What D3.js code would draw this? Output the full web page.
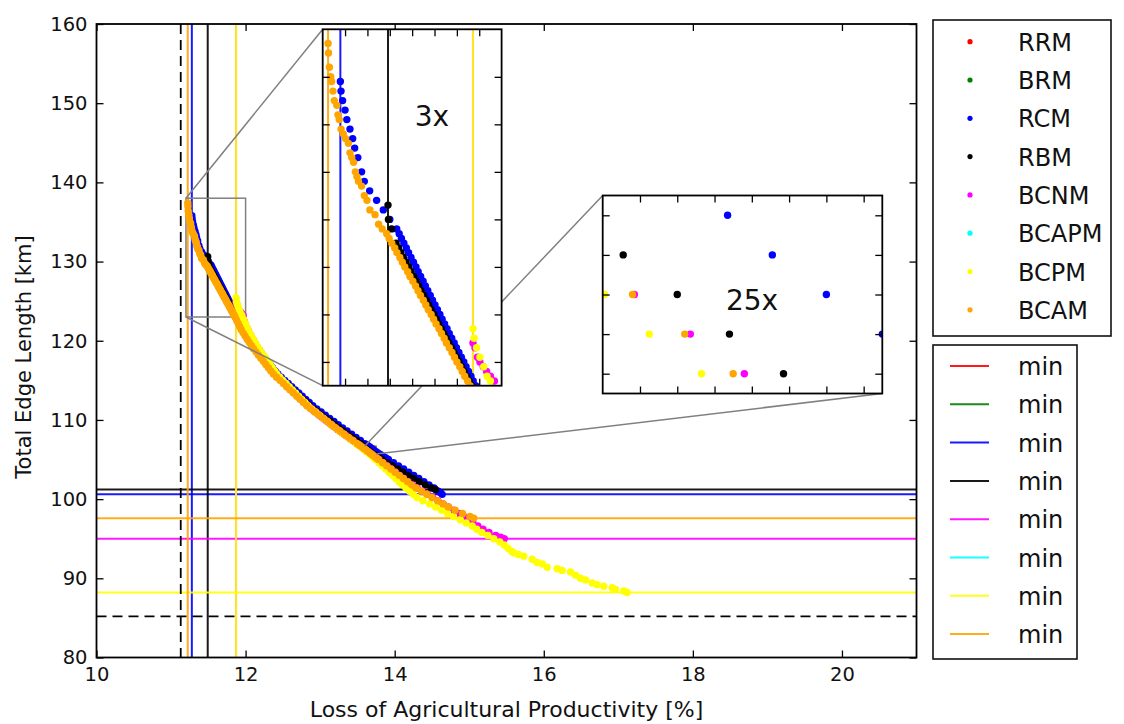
<!DOCTYPE html>
<html><head><meta charset="utf-8">
<script src="https://cdn.jsdelivr.net/npm/d3@7"></script>
<style>body{margin:0;background:#fff;} svg{display:block;font-family:"DejaVu Sans",sans-serif;}</style>
</head><body><svg id="c" width="1124" height="724"></svg>
<script>
// ---------------- data ----------------
const seriesNames = ["RRM","BRM","RCM","RBM","BCNM","BCAPM","BCPM","BCAM"];
const seriesColors = ["#ff0000","#008000","#0000ff","#000000","#ff00ff","#00ffff","#ffff00","#ffa500"];
const minLabel = "min";
const xLabel = "Loss of Agricultural Productivity [%]";
const yLabel = "Total Edge Length [km]";
const xTicks = [10,12,14,16,18,20];
const yTicks = [80,90,100,110,120,130,140,150,160];
const refLoss = 11.13;   // dashed vertical reference
const refEdge = 85.2;    // dashed horizontal reference
const zoom3Loss = [11.2,12.0], zoom3Edge = [123,138];
const zoom3XTicks = [11.3,11.4,11.5,11.6,11.7,11.8,11.9];
const zoom3YTicks = [124,126,128,130,132,134,136];
const zoom25Loss = [13.60,13.75], zoom25Edge = [105.7,106.7];
const zoom25XTicks = [13.62,13.64,13.66,13.68,13.70,13.72,13.74];
const zoom25YTicks = [105.8,106.0,106.2,106.4,106.6];

const rrmPoints = [];
const brmPoints = [];
const bcapmPoints = [];
const rcmPoints = [[11.279,135.8],[11.282,135.4],[11.289,135.0],[11.300,134.6],[11.308,134.2],[11.322,133.8],[11.334,133.4],[11.343,133.0],[11.357,132.6],[11.374,132.0],[11.386,131.6],[11.410,131.2],[11.441,130.8],[11.471,130.4],[11.500,130.0],[11.531,129.6],
[11.542,129.4],[11.552,129.2],[11.563,129.0],[11.574,128.8],[11.584,128.6],[11.595,128.4],[11.606,128.2],[11.617,128.0],[11.627,127.8],[11.638,127.6],[11.649,127.4],[11.659,127.2],[11.670,127.0],[11.681,126.8],[11.691,126.6],[11.702,126.4],[11.713,126.2],[11.724,126.0],[11.734,125.8],[11.745,125.6],[11.756,125.4],[11.766,125.2],[11.777,125.0],[11.788,124.8],[11.798,124.6],[11.809,124.4],[11.820,124.2],[11.831,124.0],[11.841,123.8],[11.852,123.6],[11.863,123.4],[11.873,123.2],[11.884,123.0],
[11.906,122.6],[11.929,122.2],[11.951,121.8],[11.974,121.4],[12.002,121.0],[12.031,120.6],[12.060,120.2],[12.089,119.8],[12.120,119.4],[12.151,119.0],[12.186,118.6],[12.221,118.2],[12.256,117.8],[12.291,117.4],[12.326,117.0],[12.361,116.6],[12.396,116.2],[12.432,115.8],[12.478,115.4],[12.525,115.0],[12.572,114.6],[12.619,114.2],[12.666,113.8],[12.713,113.4],[12.760,113.0],[12.807,112.6],[12.854,112.2],[12.901,111.8],[12.955,111.4],[13.013,111.0],[13.070,110.6],[13.128,110.2],[13.186,109.8],[13.243,109.4],[13.301,109.0],[13.361,108.6],[13.422,108.2],[13.482,107.8],[13.540,107.4],[13.599,107.0],[13.634,106.8],[13.667,106.6],[13.691,106.4],[13.720,106.2],[13.750,106.0],[13.780,105.8],[13.814,105.6],[13.848,105.4],[13.882,105.2],[13.916,105.0],[13.984,104.6],[14.052,104.2],[14.120,103.8],[14.188,103.4],[14.256,103.0],[14.324,102.6],[14.392,102.2],[14.460,101.8],[14.528,101.4],[14.585,101.0],[14.615,100.8],[14.637,100.6]];
const rbmPoints = [[11.492,130.6],[11.494,130.0],[11.508,129.6],[11.528,129.0],[11.539,128.8],[11.550,128.6],[11.561,128.4],[11.573,128.2],[11.584,128.0],[11.595,127.8],[11.607,127.6],[11.618,127.4],[11.629,127.2],[11.640,127.0],[11.652,126.8],[11.663,126.6],[11.674,126.4],[11.685,126.2],[11.697,126.0],[11.708,125.8],[11.719,125.6],[11.731,125.4],[11.742,125.2],[11.753,125.0],[11.764,124.8],[11.776,124.6],[11.787,124.4],[11.798,124.2],[11.810,124.0],[11.821,123.8],[11.832,123.6],[11.843,123.4],[11.855,123.2],[11.866,123.0],
[11.889,122.6],[11.910,122.2],[11.931,121.8],[11.953,121.4],[11.980,121.0],[12.008,120.6],[12.036,120.2],[12.064,119.8],[12.094,119.4],[12.124,119.0],[12.158,118.6],[12.192,118.2],[12.226,117.8],[12.260,117.4],[12.294,117.0],[12.328,116.6],[12.362,116.2],[12.397,115.8],[12.442,115.4],[12.488,115.0],[12.534,114.6],[12.580,114.2],[12.626,113.8],[12.672,113.4],[12.718,113.0],[12.764,112.6],[12.810,112.2],[12.856,111.8],[12.909,111.4],[12.966,111.0],[13.022,110.6],[13.079,110.2],[13.136,109.8],[13.192,109.4],[13.249,109.0],[13.308,108.6],[13.368,108.2],[13.428,107.8],[13.487,107.4],[13.547,107.0],[13.565,106.8],[13.583,106.6],[13.611,106.4],[13.640,106.2],[13.668,106.0],[13.697,105.8],[13.728,105.6],[13.760,105.4],[13.795,105.2],[13.830,105.0],[13.900,104.6],[13.970,104.2],[14.040,103.8],[14.110,103.4],[14.180,103.0],[14.255,102.6],[14.330,102.2],[14.410,101.8],[14.490,101.4],[14.547,101.2]];
const bcnmPoints = [[11.872,124.8],[11.881,124.6],[11.892,124.2],[11.903,124.0],[11.918,123.8],[11.933,123.6],[11.950,123.4],[11.968,123.2],[11.965,122.8],[11.985,122.4],[12.000,122.0],[12.018,121.6],[12.038,121.2],[12.060,120.8],[12.083,120.4],[12.107,120.0],[12.132,119.6],[12.157,119.2],[12.185,118.8],[12.214,118.4],[12.243,118.0],[12.272,117.6],[12.301,117.2],[12.331,116.8],[12.362,116.4],[12.395,116.0],[12.430,115.6],[12.468,115.2],[12.508,114.8],[12.550,114.4],[12.592,114.0],[12.634,113.6],[12.678,113.2],[12.722,112.8],[12.768,112.4],[12.814,112.0],[12.860,111.6],[12.911,111.2],[12.965,110.8],[13.018,110.4],[13.072,110.0],[13.125,109.6],[13.178,109.2],[13.235,108.8],[13.292,108.4],[13.350,108.0],[13.408,107.6],[13.466,107.2],[13.531,106.8],[13.560,106.6],[13.589,106.4],[13.617,106.2],[13.647,106.0],[13.676,105.8],[13.703,105.6],[13.731,105.4],[13.760,105.2],[13.790,105.0],[13.845,104.6],[13.900,104.2],[13.955,103.8],[14.010,103.4],[14.065,103.0],[14.120,102.6],[14.180,102.2],[14.240,101.8],[14.300,101.4],[14.370,101.0],[14.440,100.6],[14.510,100.2],[14.580,99.8],[14.650,99.4],[14.720,99.0],[14.790,98.6],[14.860,98.2],[14.925,97.8],[14.985,97.4],[15.050,97.0],[15.115,96.6],[15.185,96.2],[15.265,95.8],[15.355,95.4],[15.420,95.2],[15.470,95.0]];
const bcpmPoints = [[11.872,125.4],[11.877,125.0],[11.888,124.6],[11.903,124.2],[11.920,123.8],[11.935,123.4],[11.950,123.2],[11.962,122.8],[11.978,122.6],[11.995,122.2],[12.012,121.8],[12.031,121.4],[12.053,121.0],[12.077,120.6],[12.101,120.2],[12.126,119.8],[12.151,119.4],[12.177,119.0],[12.207,118.6],[12.237,118.2],[12.268,117.8],[12.297,117.4],[12.327,117.0],[12.357,116.6],[12.388,116.2],[12.418,115.8],[12.459,115.4],[12.501,115.0],[12.543,114.6],[12.585,114.2],[12.627,113.8],[12.669,113.4],[12.711,113.0],[12.753,112.6],[12.795,112.2],[12.837,111.8],[12.886,111.4],[12.939,111.0],[12.991,110.6],[13.044,110.2],[13.097,109.8],[13.149,109.4],[13.202,109.0],[13.258,108.6],[13.315,108.2],[13.372,107.8],[13.428,107.4],[13.485,107.0],[13.515,106.8],[13.544,106.6],[13.573,106.4],[13.601,106.2],[13.625,106.0],[13.653,105.8],[13.677,105.6],[13.700,105.4],[13.722,105.2],[13.745,105.0],[13.790,104.6],[13.835,104.2],[13.880,103.8],[13.925,103.4],[13.970,103.0],[14.015,102.6],[14.060,102.2],[14.105,101.8],[14.150,101.4],[14.200,101.0],[14.250,100.6],[14.300,100.2],[14.380,99.8],[14.470,99.4],[14.550,99.0],[14.630,98.6],[14.710,98.2],[14.790,97.8],[14.880,97.4],[14.960,97.0],[15.040,96.6],[15.100,96.2],[15.170,95.8],[15.250,95.4],[15.330,95.0],[15.410,94.6],[15.470,94.2],[15.520,93.8],[15.570,93.4],[15.600,93.2],[15.660,93.0],[15.732,92.8],[15.844,92.4],[15.911,92.0],[15.979,91.8],[16.046,91.4],[16.180,91.2],[16.247,91.0],[16.358,90.8],[16.425,90.4],[16.492,90.0],[16.560,89.8],[16.649,89.4],[16.716,89.2],[16.805,89.0],[16.917,88.8],[16.962,88.6],[17.073,88.4],[17.118,88.2]];
const bcamPoints = [[11.224,137.4],[11.226,137.0],[11.230,136.4],[11.236,136.0],[11.240,135.8],[11.246,135.4],[11.252,135.0],[11.263,134.8],[11.268,134.4],[11.274,134.2],[11.282,133.8],[11.292,133.6],[11.302,133.4],[11.315,133.2],[11.322,132.8],[11.330,132.6],[11.338,132.4],[11.346,132.0],[11.353,131.8],[11.360,131.6],[11.374,131.4],[11.386,131.0],[11.398,130.8],[11.411,130.4],[11.434,130.2],[11.450,129.8],[11.466,129.6],[11.486,129.4],
[11.497,129.2],[11.509,129.0],[11.522,128.8],[11.532,128.6],[11.545,128.4],[11.556,128.2],[11.567,128.0],[11.580,127.8],[11.590,127.6],[11.603,127.4],[11.615,127.2],[11.626,127.0],[11.637,126.8],[11.650,126.6],[11.661,126.4],[11.672,126.2],[11.685,126.0],[11.696,125.8],[11.707,125.6],[11.720,125.4],[11.731,125.2],[11.743,125.0],[11.753,124.8],[11.766,124.6],[11.778,124.4],[11.789,124.2],[11.800,124.0],[11.813,123.8],[11.824,123.6],[11.835,123.4],[11.848,123.2],[11.859,123.0],
[11.879,122.6],[11.900,122.2],[11.920,121.8],[11.942,121.4],[11.967,121.0],[11.993,120.6],[12.021,120.2],[12.049,119.8],[12.077,119.4],[12.106,119.0],[12.139,118.6],[12.171,118.2],[12.205,117.8],[12.238,117.4],[12.271,117.0],[12.305,116.6],[12.337,116.2],[12.372,115.8],[12.415,115.4],[12.460,115.0],[12.506,114.6],[12.550,114.2],[12.594,113.8],[12.640,113.4],[12.686,113.0],[12.730,112.6],[12.776,112.2],[12.820,111.8],[12.872,111.4],[12.927,111.0],[12.983,110.6],[13.040,110.2],[13.094,109.8],[13.150,109.4],[13.207,109.0],[13.264,108.6],[13.322,108.2],[13.382,107.8],[13.441,107.4],[13.499,107.0],[13.528,106.8],[13.557,106.6],[13.587,106.4],[13.616,106.2],[13.644,106.0],[13.670,105.8],[13.698,105.6],[13.726,105.4],[13.754,105.2],[13.782,105.0],[13.838,104.6],[13.893,104.2],[13.949,103.8],[14.005,103.4],[14.061,103.0],[14.117,102.6],[14.172,102.2],[14.228,101.8],[14.290,101.4],[14.360,101.0],[14.430,100.6],[14.500,100.2],[14.575,99.8],[14.650,99.4],[14.720,99.0],[14.810,98.6],[14.910,98.2],[15.010,97.8],[15.060,97.6]];

const seriesData = [rrmPoints, brmPoints, rcmPoints, rbmPoints, bcnmPoints, bcapmPoints, bcpmPoints, bcamPoints];

// ---------------- layout ----------------
const svg = d3.select("#c");
const FONT = "DejaVu Sans";
const series = seriesNames.map((n,i)=>({name:n, color:seriesColors[i], pts:seriesData[i]}));
const x = d3.scaleLinear().domain([10,21]).range([96.5,916.5]);
const y = d3.scaleLinear().domain([80,160]).range([657.5,24]);
const R = 3.7;

svg.append("rect").attr("width",1124).attr("height",724).attr("fill","#fff");
const defs = svg.append("defs");
let clipN = 0;
function clipFor(xs, ys){
  const id = "clip"+(clipN++);
  defs.append("clipPath").attr("id",id).append("rect")
    .attr("x",xs.range()[0]).attr("y",ys.range()[1])
    .attr("width",xs.range()[1]-xs.range()[0]).attr("height",ys.range()[0]-ys.range()[1]);
  return id;
}

function drawLines(g, xs, ys, withRef){
  const [xa,xb] = xs.range(), [yb,ya] = ys.range();
  series.forEach(s=>{
    if(!s.pts.length) return;
    const mx = d3.min(s.pts,d=>d[0]), my = d3.min(s.pts,d=>d[1]);
    g.append("line").attr("x1",xs(mx)).attr("x2",xs(mx)).attr("y1",ya).attr("y2",yb)
      .attr("stroke",s.color).attr("stroke-width",2).attr("stroke-opacity",0.9);
    g.append("line").attr("x1",xa).attr("x2",xb).attr("y1",ys(my)).attr("y2",ys(my))
      .attr("stroke",s.color).attr("stroke-width",2).attr("stroke-opacity",0.9);
  });
  if(withRef){
    g.append("line").attr("x1",xs(refLoss)).attr("x2",xs(refLoss)).attr("y1",ya).attr("y2",yb)
      .attr("stroke","#000").attr("stroke-width",1.8).attr("stroke-dasharray","10,6");
    g.append("line").attr("x1",xa).attr("x2",xb).attr("y1",ys(refEdge)).attr("y2",ys(refEdge))
      .attr("stroke","#000").attr("stroke-width",1.8).attr("stroke-dasharray","10,6");
  }
}
function drawPoints(g, xs, ys){
  series.forEach(s=>{
    g.append("g").selectAll("circle").data(s.pts).join("circle")
      .attr("cx",d=>xs(d[0])).attr("cy",d=>ys(d[1])).attr("r",R).attr("fill",s.color);
  });
}
function frameAndTicks(g, xs, ys, xt, yt, labels){
  const [xa,xb] = xs.range(), [yb,ya] = ys.range();
  const bottom = g.append("g").attr("transform",`translate(0,${yb})`)
    .call(d3.axisBottom(xs).tickValues(xt).tickSize(-7).tickPadding(10).tickFormat(labels?d3.format("d"):""));
  const top = g.append("g").attr("transform",`translate(0,${ya})`)
    .call(d3.axisTop(xs).tickValues(xt).tickSize(-7).tickFormat(""));
  const left = g.append("g").attr("transform",`translate(${xa},0)`)
    .call(d3.axisLeft(ys).tickValues(yt).tickSize(-7).tickPadding(9).tickFormat(labels?d3.format("d"):""));
  const right = g.append("g").attr("transform",`translate(${xb},0)`)
    .call(d3.axisRight(ys).tickValues(yt).tickSize(-7).tickFormat(""));
  [bottom,top,left,right].forEach(a=>{
    a.select(".domain").remove();
    a.selectAll(".tick line").attr("stroke","#000").attr("stroke-width",1.3);
    a.attr("font-family",FONT).attr("font-size",19.5);
    a.selectAll("text").attr("fill","#111");
  });
  g.append("rect").attr("x",xa).attr("y",ya).attr("width",xb-xa).attr("height",yb-ya)
    .attr("fill","none").attr("stroke","#000").attr("stroke-width",1.8);
}

// ---------------- main axes ----------------
const main = svg.append("g");
const mainClip = clipFor(x,y);
const mainData = main.append("g").attr("clip-path",`url(#${mainClip})`);
drawLines(mainData, x, y, true);

// inset layouts (pixel boxes)
const box3 = {x0:322.7, x1:501.6, y0:29.3, y1:385.7};
const box25 = {x0:602.7, x1:882.3, y0:195.5, y1:393.5};
const grey = "#808080";
mainData.append("rect").attr("x",x(zoom3Loss[0])).attr("y",y(zoom3Edge[1]))
  .attr("width",x(zoom3Loss[1])-x(zoom3Loss[0])).attr("height",y(zoom3Edge[0])-y(zoom3Edge[1]))
  .attr("fill","none").attr("stroke",grey).attr("stroke-width",1.5);
mainData.append("rect").attr("x",x(zoom25Loss[0])).attr("y",y(zoom25Edge[1]))
  .attr("width",x(zoom25Loss[1])-x(zoom25Loss[0])).attr("height",y(zoom25Edge[0])-y(zoom25Edge[1]))
  .attr("fill","none").attr("stroke",grey).attr("stroke-width",1.5);
const conn = [
  [x(zoom3Loss[0]), y(zoom3Edge[1]), box3.x0, box3.y0],
  [x(zoom3Loss[0]), y(zoom3Edge[0]), box3.x0, box3.y1],
  [x(zoom25Loss[0]), y(zoom25Edge[1]), box25.x0, box25.y0],
  [x(zoom25Loss[1]), y(zoom25Edge[0]), box25.x1, box25.y1]
];
main.selectAll("line.conn").data(conn).join("line").attr("class","conn")
  .attr("x1",d=>d[0]).attr("y1",d=>d[1]).attr("x2",d=>d[2]).attr("y2",d=>d[3])
  .attr("stroke",grey).attr("stroke-width",1.5);
drawPoints(mainData, x, y);
frameAndTicks(main, x, y, xTicks, yTicks, true);

// axis titles
svg.append("text").attr("x",(x.range()[0]+x.range()[1])/2).attr("y",717)
  .attr("text-anchor","middle").attr("font-family",FONT).attr("font-size",22).attr("fill","#111").text(xLabel);
svg.append("text").attr("transform",`translate(31,357) rotate(-90)`)
  .attr("text-anchor","middle").attr("font-family",FONT).attr("font-size",21).attr("fill","#111").text(yLabel);

// ---------------- insets ----------------
function inset(box, xd, yd, xt, yt, label, lx, ly){
  const xs = d3.scaleLinear().domain(xd).range([box.x0, box.x1]);
  const ys = d3.scaleLinear().domain(yd).range([box.y1, box.y0]);
  const g = svg.append("g");
  g.append("rect").attr("x",box.x0).attr("y",box.y0).attr("width",box.x1-box.x0).attr("height",box.y1-box.y0).attr("fill","#fff");
  const cid = clipFor(xs, ys);
  const dg = g.append("g").attr("clip-path",`url(#${cid})`);
  drawLines(dg, xs, ys, false);
  drawPoints(dg, xs, ys);
  frameAndTicks(g, xs, ys, xt, yt, false);
  g.append("text").attr("x",lx).attr("y",ly).attr("text-anchor","middle")
    .attr("font-family",FONT).attr("font-size",28).attr("fill","#111").text(label);
}
inset(box3, zoom3Loss, zoom3Edge, zoom3XTicks, zoom3YTicks, "3x", 432, 126);
inset(box25, zoom25Loss, zoom25Edge, zoom25XTicks, zoom25YTicks, "25x", 752, 310);

// ---------------- legends ----------------
const leg1 = svg.append("g");
leg1.append("rect").attr("x",933).attr("y",20).attr("width",178).attr("height",316)
  .attr("fill","#fff").attr("stroke","#111").attr("stroke-width",1.6);
series.forEach((s,i)=>{
  const yy = 41.7 + i*38.3;
  leg1.append("circle").attr("cx",970).attr("cy",yy).attr("r",2.6).attr("fill",s.color);
  leg1.append("text").attr("x",1018).attr("y",yy+9).attr("font-family",FONT).attr("font-size",24)
    .attr("fill","#111").text(s.name);
});
const leg2 = svg.append("g");
leg2.append("rect").attr("x",933).attr("y",345).attr("width",144).attr("height",314)
  .attr("fill","#fff").attr("stroke","#111").attr("stroke-width",1.6);
series.forEach((s,i)=>{
  const yy = 366 + i*38.3;
  leg2.append("line").attr("x1",950).attr("x2",989).attr("y1",yy).attr("y2",yy)
    .attr("stroke",s.color).attr("stroke-width",2).attr("stroke-opacity",0.9);
  leg2.append("text").attr("x",1018).attr("y",yy+9).attr("font-family",FONT).attr("font-size",24)
    .attr("fill","#111").text(minLabel);
});
</script>
</body></html>
